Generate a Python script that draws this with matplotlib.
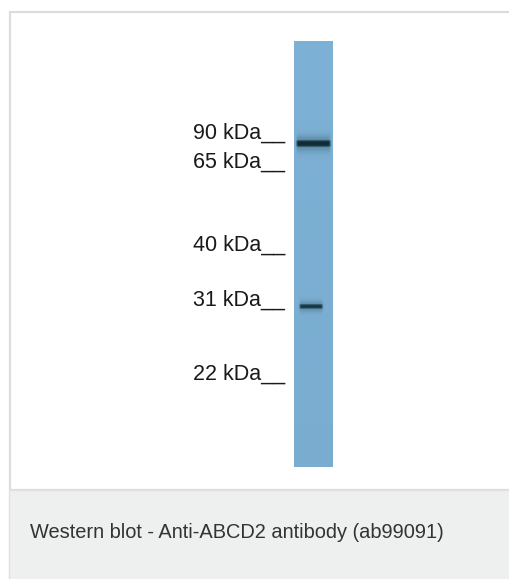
import numpy as np
import matplotlib
matplotlib.use("Agg")
import matplotlib.pyplot as plt
from matplotlib.patches import Rectangle

plt.rcParams['font.family'] = ['Liberation Sans', 'DejaVu Sans']

# ---- data ----
marker_labels = ["90 kDa", "65 kDa", "40 kDa", "31 kDa", "22 kDa"]
marker_migration = [0.239, 0.308, 0.502, 0.631, 0.805]   # fraction of lane length
band_migration = [0.2406, 0.623]
band_intensity = [0.97, 0.88]
band_thickness = [0.0078, 0.0052]                         # half-width, fraction of lane length
band_x_start = [0.07, 0.15]                               # fraction of lane width
band_x_end = [0.93, 0.73]
caption = "Western blot - Anti-ABCD2 antibody (ab99091)"

W, H = 510, 579
fig = plt.figure(figsize=(W / 100, H / 100), dpi=100)
ax = fig.add_axes([0, 0, 1, 1])
ax.set_xlim(0, W)
ax.set_ylim(H, 0)
ax.axis('off')

# frame and caption box
ax.add_patch(Rectangle((10, 12), 520, 478, facecolor='white', edgecolor='#dddddd', lw=1.6))
ax.add_patch(Rectangle((9, 490), 520, 100, facecolor='#eeefef', edgecolor='#e0e0e0', lw=1.0))
ax.text(30, 533, caption, fontsize=14.4, color='#333333', va='center', ha='left')

# lane geometry
lane_x0, lane_x1 = 294, 333
lane_y0, lane_y1 = 41, 467
lane_len = lane_y1 - lane_y0

# lane image built from band data
nh, nw = 426, 78
yy = (np.arange(nh) + 0.5) / nh
xx = (np.arange(nw) + 0.5) / nw
base = np.array([125, 177, 213]) / 255.0
dark = np.array([12, 40, 50]) / 255.0
alpha = np.zeros((nh, nw))
for m, inten, hw, xs, xe in zip(band_migration, band_intensity, band_thickness,
                                band_x_start, band_x_end):
    core = np.exp(-((yy - m) / hw) ** 4 * 0.7)
    halo = 0.35 * np.exp(-0.5 * ((yy - m) / (hw * 1.6)) ** 2)
    vy = np.clip(np.maximum(core, halo), 0, 1)
    edge = 0.03
    vx = 1 / (1 + np.exp(-(xx - xs) / edge * 3)) * 1 / (1 + np.exp((xx - xe) / edge * 3))
    alpha = np.maximum(alpha, inten * np.outer(vy, vx))
shade = 1 - 0.025 * yy[:, None]
img = (base[None, None, :] * shade[:, :, None]) * (1 - alpha[:, :, None]) + dark[None, None, :] * alpha[:, :, None]
ax.imshow(img, extent=(lane_x0, lane_x1, lane_y1, lane_y0), aspect='auto',
          interpolation='bilinear', zorder=3)

# marker labels
for lab, m in zip(marker_labels, marker_migration):
    y = lane_y0 + m * lane_len
    ax.text(285, y - 4.5, lab + "__", fontsize=15.5, color='#1a1a1a',
            ha='right', va='baseline')

fig.savefig("out.png", dpi=100)
